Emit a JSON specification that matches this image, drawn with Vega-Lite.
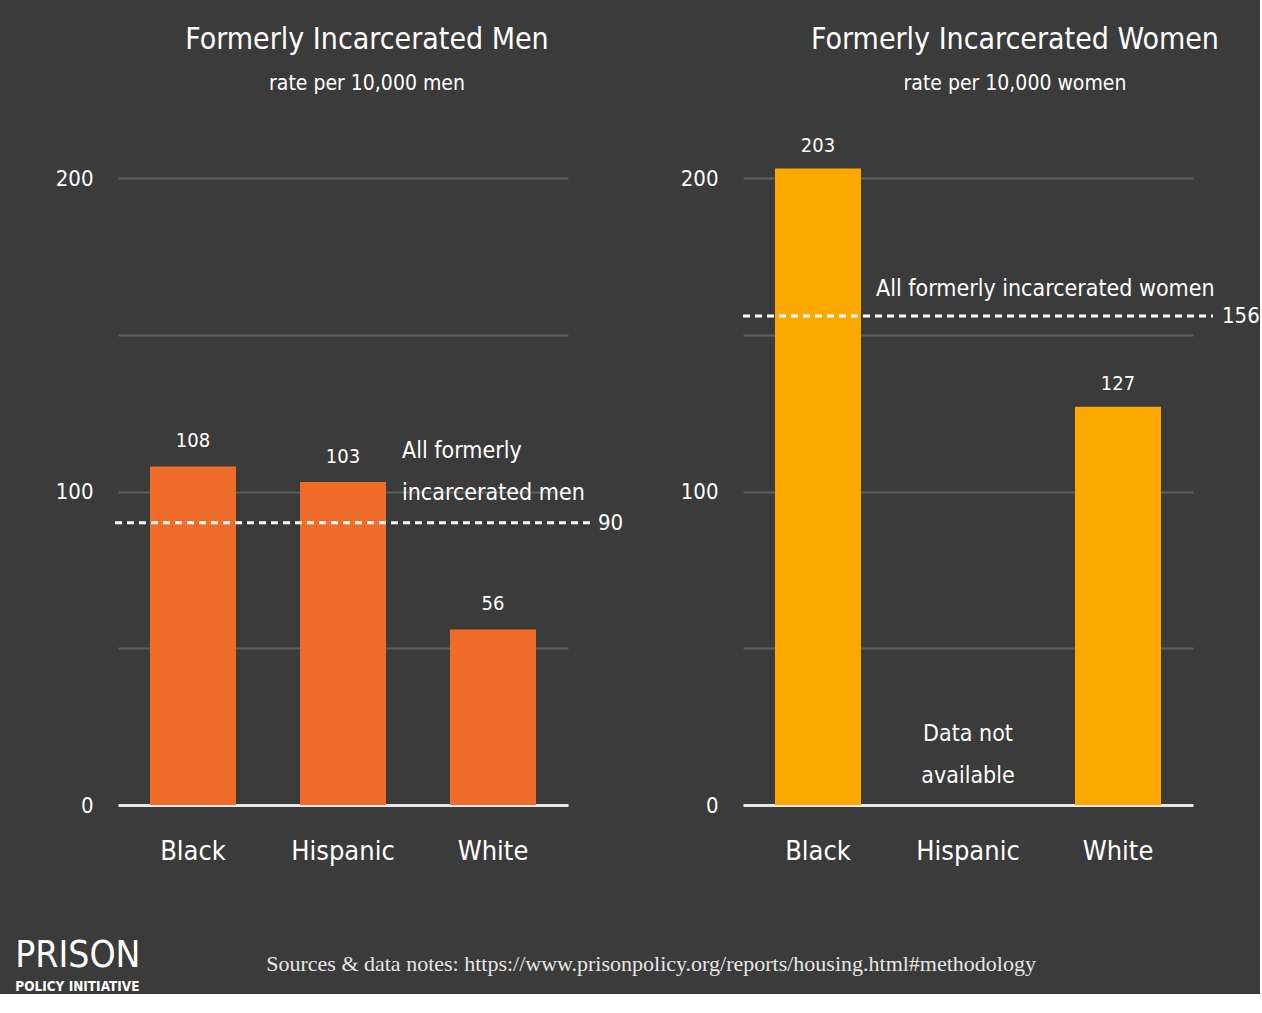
{
  "$schema": "https://vega.github.io/schema/vega-lite/v6.json",
  "background": "#3b3b3b",
  "padding": {"left": 15, "top": 24, "right": 0, "bottom": 0},
  "datasets": {
    "men": [
      {"race": "Black", "rate": 108},
      {"race": "Hispanic", "rate": 103},
      {"race": "White", "rate": 56}
    ],
    "women": [
      {"race": "Black", "rate": 203},
      {"race": "White", "rate": 127}
    ],
    "womenNote": [
      {"race": "Hispanic", "note": ["Data not", "available"]}
    ],
    "menAvg": [
      {"avg": 90, "label": ["All formerly", "incarcerated men"]}
    ],
    "womenAvg": [
      {"avg": 156, "label": "All formerly incarcerated women"}
    ]
  },
  "title": {
    "text": "PRISON",
    "subtitle": "POLICY INITIATIVE",
    "orient": "bottom",
    "anchor": "start",
    "font": "DejaVu Sans Condensed, sans-serif",
    "fontSize": 37,
    "fontWeight": "normal",
    "color": "white",
    "subtitleFont": "DejaVu Sans Condensed, sans-serif",
    "subtitleFontSize": 13.5,
    "subtitleFontWeight": "bold",
    "subtitleColor": "white",
    "subtitlePadding": 5,
    "offset": 0,
    "dx": -40,
    "dy": -37
  },
  "vconcat": [
    {
      "title": {
        "text": "Sources & data notes: https://www.prisonpolicy.org/reports/housing.html#methodology",
        "orient": "bottom",
        "anchor": "start",
        "dx": 211,
        "offset": 90,
        "font": "Liberation Serif",
        "fontSize": 22,
        "fontWeight": "normal",
        "color": "#e6e6e6"
      },
      "spacing": 175,
      "bounds": "flush",
      "hconcat": [
        {
          "width": 450,
          "height": 627,
          "title": {
            "text": "Formerly Incarcerated Men",
            "subtitle": "rate per 10,000 men",
            "anchor": "middle",
            "frame": "group",
            "dx": 24,
            "offset": 73
          },
          "layer": [
            {
              "data": {"name": "men"},
              "mark": {"type": "bar", "color": "#EF6C2A", "size": 86, "clip": false},
              "encoding": {
                "x": {
                  "field": "race", "type": "nominal",
                  "scale": {"domain": ["Black", "Hispanic", "White"], "paddingInner": 0, "paddingOuter": 0},
                  "axis": {"title": null}
                },
                "y": {
                  "field": "rate", "type": "quantitative",
                  "scale": {"domain": [0, 200], "nice": false},
                  "axis": {"title": null, "values": [0, 50, 100, 150, 200], "labelExpr": "datum.value % 100 == 0 ? datum.label : ''"}
                }
              }
            },
            {
              "data": {"name": "men"},
              "mark": {"type": "text", "baseline": "alphabetic", "dy": -19, "fontSize": 20, "color": "white"},
              "encoding": {
                "x": {"field": "race", "type": "nominal"},
                "y": {"field": "rate", "type": "quantitative"},
                "text": {"field": "rate", "type": "quantitative"}
              }
            },
            {
              "data": {"name": "menAvg"},
              "mark": {"type": "rule", "color": "white", "strokeWidth": 3, "strokeDash": [7, 5], "xOffset": -3, "x2Offset": 22},
              "encoding": {
                "x": {"datum": "Black", "type": "nominal", "bandPosition": 0},
                "x2": {"datum": "White", "bandPosition": 1},
                "y": {"field": "avg", "type": "quantitative"}
              }
            },
            {
              "data": {"name": "menAvg"},
              "mark": {"type": "text", "align": "left", "baseline": "middle", "dx": 30, "fontSize": 22, "color": "white"},
              "encoding": {
                "x": {"datum": "White", "type": "nominal", "bandPosition": 1},
                "y": {"field": "avg", "type": "quantitative"},
                "text": {"field": "avg", "type": "quantitative"}
              }
            },
            {
              "data": {"name": "menAvg"},
              "mark": {"type": "text", "align": "left", "baseline": "alphabetic", "dx": -16, "dy": -65, "fontSize": 23, "lineHeight": 42, "color": "white"},
              "encoding": {
                "x": {"datum": "White", "type": "nominal", "bandPosition": 0},
                "y": {"field": "avg", "type": "quantitative"},
                "text": {"field": "label"}
              }
            }
          ]
        },
        {
          "width": 450,
          "height": 627,
          "title": {
            "text": "Formerly Incarcerated Women",
            "subtitle": "rate per 10,000 women",
            "anchor": "middle",
            "frame": "group",
            "dx": 47,
            "offset": 42
          },
          "layer": [
            {
              "data": {"name": "women"},
              "mark": {"type": "bar", "color": "#FBA900", "size": 86, "clip": false},
              "encoding": {
                "x": {
                  "field": "race", "type": "nominal",
                  "scale": {"domain": ["Black", "Hispanic", "White"], "paddingInner": 0, "paddingOuter": 0},
                  "axis": {"title": null}
                },
                "y": {
                  "field": "rate", "type": "quantitative",
                  "scale": {"domain": [0, 200], "nice": false},
                  "axis": {"title": null, "values": [0, 50, 100, 150, 200], "labelExpr": "datum.value % 100 == 0 ? datum.label : ''"}
                }
              }
            },
            {
              "data": {"name": "women"},
              "mark": {"type": "text", "baseline": "alphabetic", "dy": -17, "fontSize": 20, "color": "white"},
              "encoding": {
                "x": {"field": "race", "type": "nominal"},
                "y": {"field": "rate", "type": "quantitative"},
                "text": {"field": "rate", "type": "quantitative"}
              }
            },
            {
              "data": {"name": "womenNote"},
              "mark": {"type": "text", "align": "center", "baseline": "alphabetic", "dy": -64, "fontSize": 23, "lineHeight": 42, "color": "white"},
              "encoding": {
                "x": {"field": "race", "type": "nominal"},
                "y": {"datum": 0, "type": "quantitative"},
                "text": {"field": "note"}
              }
            },
            {
              "data": {"name": "womenAvg"},
              "mark": {"type": "rule", "color": "white", "strokeWidth": 3, "strokeDash": [7, 5], "x2Offset": 20},
              "encoding": {
                "x": {"datum": "Black", "type": "nominal", "bandPosition": 0},
                "x2": {"datum": "White", "bandPosition": 1},
                "y": {"field": "avg", "type": "quantitative"}
              }
            },
            {
              "data": {"name": "womenAvg"},
              "mark": {"type": "text", "align": "left", "baseline": "middle", "dx": 29, "fontSize": 22, "color": "white"},
              "encoding": {
                "x": {"datum": "White", "type": "nominal", "bandPosition": 1},
                "y": {"field": "avg", "type": "quantitative"},
                "text": {"field": "avg", "type": "quantitative"}
              }
            },
            {
              "data": {"name": "womenAvg"},
              "mark": {"type": "text", "align": "left", "baseline": "alphabetic", "dx": -17, "dy": -20, "fontSize": 23, "color": "white"},
              "encoding": {
                "x": {"datum": "Hispanic", "type": "nominal", "bandPosition": 0},
                "y": {"field": "avg", "type": "quantitative"},
                "text": {"field": "label"}
              }
            }
          ]
        }
      ]
    }
  ],
  "config": {
    "font": "DejaVu Sans Condensed, sans-serif",
    "view": {"stroke": null},
    "title": {
      "color": "white",
      "subtitleColor": "white",
      "fontWeight": "normal",
      "fontSize": 30,
      "subtitleFontSize": 21,
      "subtitlePadding": 18
    },
    "axisX": {
      "labelAngle": 0,
      "labelFontSize": 27,
      "labelColor": "white",
      "labelPadding": 33,
      "ticks": false,
      "domainColor": "#e8e8e8",
      "domainWidth": 3,
      "grid": false,
      "zindex": 1
    },
    "axisY": {
      "labelFontSize": 22,
      "labelColor": "white",
      "labelPadding": 25,
      "ticks": false,
      "domain": false,
      "grid": true,
      "gridColor": "#5e5e5e",
      "gridWidth": 2
    }
  }
}
